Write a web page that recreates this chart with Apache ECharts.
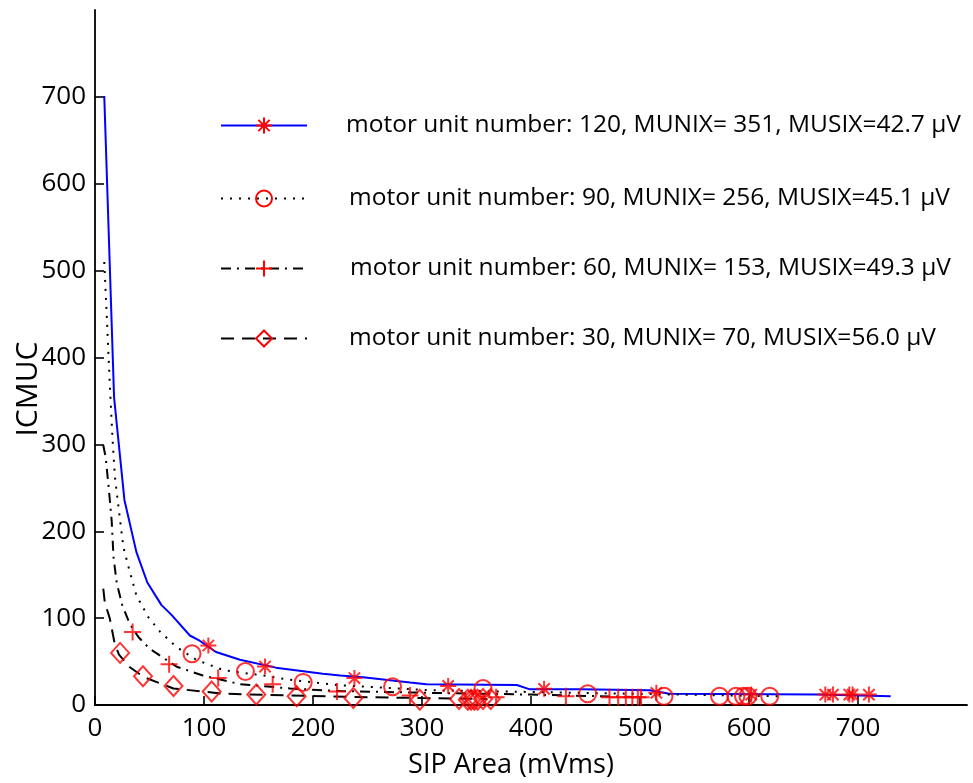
<!DOCTYPE html>
<html><head><meta charset="utf-8">
<script src="https://cdn.jsdelivr.net/npm/echarts@6/dist/echarts.min.js"></script>
<style>html,body{margin:0;padding:0;background:#fff}#c{width:973px;height:783px}</style>
</head><body><div id="c"></div>
<script>
const xTicks = [0, 100, 200, 300, 400, 500, 600, 700];
const yTicks = [0, 100, 200, 300, 400, 500, 600, 700];
const legendNames = [
  'motor unit number: 120, MUNIX= 351, MUSIX=42.7 μV',
  'motor unit number: 90, MUNIX= 256, MUSIX=45.1 μV',
  'motor unit number: 60, MUNIX= 153, MUSIX=49.3 μV',
  'motor unit number: 30, MUNIX= 70, MUSIX=56.0 μV'
];
// curves [SIP area, ICMUC]
const curve120 = [[8.5,701],[17.5,354],[27,236],[38,176],[48,141],[61,115],[70,104],[87,80],[96,74],[111,61],[133,52],[166,43],[209,36],[225,34],[246,32],[289,26],[304,24],[387,23],[399,18],[445,18],[509,17],[527,13],[664,12],[730,10]];
const curve90 = [[8.5,510],[11,442],[13.7,366],[16,308],[18.3,262],[22.3,220],[26,182],[30.5,160],[38,126],[49,101],[60,84],[75,66.5],[93,52],[118,40],[154,34],[179,29],[222,23],[307,17],[399,15],[490,13],[628,10]];
const curve60 = [[7.6,299],[9.8,285],[12.8,247],[15.3,212],[17,170],[20,140],[25,115],[32,93],[40,78],[50,65],[75,44],[99,34],[133,24],[179,19],[225,16],[307,14],[400,12],[500,9]];
const curve30 = [[7.6,134],[9,118],[13.5,100],[18,71],[22,58],[32,43.5],[45,32],[72,19],[118,13],[179,11],[250,9],[300,8],[360,7]];
// measured markers
const pts120 = [[104,68.5],[156,44.3],[238,31],[324,22],[412,18.6],[515,14],[602,12],[670,12],[677,12],[692,12],[695,12],[710,12]];
const pts90 = [[89,59],[138,38.5],[191,26],[273,21],[356,19],[452,13],[522,10],[573,10],[588,10],[595,10],[599,10],[619,10]];
const pts60 = [[34.5,84],[68,47],[113,31],[163,24],[222,15.5],[289,11],[368,9],[432,10],[472,9],[480,9],[487,9],[493,9],[498,9],[501,9]];
const pts30 = [[23,60],[44,33],[72,22],[107,15.5],[148,12],[185,10],[237,8],[298,6],[334,7],[342,6],[345,6],[348,6],[351,6],[356,7],[363,7]];

const FONT = 'Open Sans';
const RED = '#ff0000';
const STAR = 'path://M0,-10L0,10M-10,0L10,0M-7.07,-7.07L7.07,7.07M-7.07,7.07L7.07,-7.07';
const PLUS = 'path://M0,-10L0,10M-10,0L10,0';
const styles = [
  {sym: STAR, size: 16, line: {color: '#0000ff', width: 2, type: 'solid'}},
  {sym: 'circle', size: 17, line: {color: '#000', width: 2, type: [2, 7]}},
  {sym: PLUS, size: 17, line: {color: '#000', width: 2, type: [10, 6, 2, 6]}},
  {sym: 'diamond', size: [18, 20], line: {color: '#000', width: 2, type: [13, 8]}}
];
const curves = [curve120, curve90, curve60, curve30];
const pts = [pts120, pts90, pts60, pts30];
const markerStyle = {color: 'rgba(0,0,0,0)', borderColor: RED, borderWidth: 2};

const series = [];
curves.forEach((c, i) => {
  series.push({
    name: legendNames[i], type: 'line', data: c, showSymbol: false,
    symbol: styles[i].sym, symbolSize: styles[i].size,
    lineStyle: styles[i].line, itemStyle: markerStyle, silent: true, z: 2
  });
});
pts.forEach((p, i) => {
  series.push({
    name: 'pts' + i, type: 'scatter', data: p,
    symbol: styles[i].sym, symbolSize: styles[i].size,
    itemStyle: markerStyle, silent: true, z: 3
  });
});

const legendTops = [113, 186, 256, 326];
const legendPad = [34, 37, 38, 37];
const legends = legendNames.map((n, i) => ({
  data: [{name: n, itemStyle: markerStyle, lineStyle: styles[i].line}],
  left: 220, top: legendTops[i], padding: 0,
  itemWidth: 86, itemHeight: 20, selectedMode: false,
  textStyle: {fontFamily: FONT, fontSize: 24.5, color: '#000', padding: [0, 0, 0, legendPad[i]]}
}));

const axisCommon = {
  type: 'value', min: 0, max: 800, interval: 100,
  axisLine: {show: true, lineStyle: {color: '#000', width: 1.8}},
  splitLine: {show: false}
};

const chart = echarts.init(document.getElementById('c'));
chart.setOption({
  animation: false,
  backgroundColor: '#fff',
  grid: {left: 95, right: 6, top: 10, bottom: 78},
  xAxis: Object.assign({}, axisCommon, {
    axisTick: {show: true, inside: true, length: 9, lineStyle: {color: '#000', width: 1.6}, customValues: xTicks},
    axisLabel: {fontFamily: FONT, fontSize: 26, color: '#000', margin: 11, customValues: xTicks}
  }),
  yAxis: Object.assign({}, axisCommon, {
    axisTick: {show: true, inside: true, length: 9, lineStyle: {color: '#000', width: 1.6}, customValues: yTicks},
    axisLabel: {fontFamily: FONT, fontSize: 26, color: '#000', margin: 9, customValues: yTicks}
  }),
  legend: legends,
  graphic: [
    {type: 'text', x: 511, y: 765, style: {text: 'SIP Area (mVms)', fontFamily: FONT, fontSize: 27, fill: '#000', textAlign: 'center', textVerticalAlign: 'middle'}},
    {type: 'text', x: 28, y: 389, rotation: Math.PI / 2, style: {text: 'ICMUC', fontFamily: FONT, fontSize: 30, fill: '#000', textAlign: 'center', textVerticalAlign: 'middle'}}
  ],
  series: series
});
</script></body></html>
